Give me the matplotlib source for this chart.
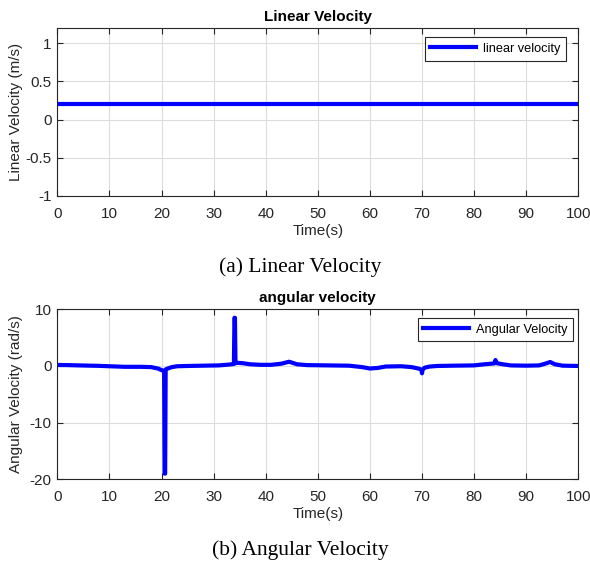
import numpy as np
import matplotlib
matplotlib.use("Agg")
import matplotlib.pyplot as plt

plt.rcParams['font.family'] = ['Liberation Sans', 'DejaVu Sans']
plt.rcParams['axes.unicode_minus'] = False

# linear velocity: constant command over the whole run
lin_time = [0, 100]
lin_vel = [0.2, 0.2]

# angular velocity samples (rad/s)
ang_time = [0, 2, 5, 8, 10, 13, 16, 18, 19.3, 20.2, 20.5, 20.6, 20.7, 20.8, 21.2, 22, 23, 25,
            28, 31, 33, 33.9, 34.0, 34.1, 34.2, 34.6, 35.5, 37, 39, 41, 43, 44.5, 46, 48,
            52, 56, 58.5, 60, 61.5, 63, 66, 68, 69.5, 69.9, 70.0, 70.1, 70.5, 71.5, 73,
            76, 80, 82, 83.9, 84.1, 84.3, 84.6, 85.5, 87, 90, 92.5, 93.8, 94.6, 95.5,
            97, 100]
ang_vel = [0.18, 0.15, 0.08, 0.02, -0.05, -0.15, -0.15, -0.2, -0.45, -0.8, -0.9, -19.0,
           -19.0, -0.6, -0.45, -0.2, -0.05, 0.0, 0.05, 0.1, 0.25, 0.35, 8.5, 8.5, 0.5,
           0.55, 0.5, 0.3, 0.2, 0.2, 0.4, 0.75, 0.3, 0.15, 0.1, 0.05, -0.2, -0.45, -0.35,
           -0.1, -0.05, -0.2, -0.5, -0.7, -1.3, -0.7, -0.3, -0.1, 0.0, 0.05, 0.1, 0.3,
           0.45, 1.05, 0.5, 0.45, 0.3, 0.1, 0.05, 0.1, 0.45, 0.7, 0.3, 0.05, 0.0]

fig = plt.figure(figsize=(5.9, 5.64), dpi=100)
W, H = 590.0, 564.0


def style_axes(ax):
    ax.grid(True, color='#dcdcdc', linewidth=0.8)
    ax.set_axisbelow(True)
    ax.tick_params(direction='in', top=True, right=True, length=4,
                   labelsize=11, colors='#262626')
    ax.tick_params(axis='x', pad=8)
    ax.tick_params(axis='y', pad=4)
    ax.yaxis.set_label_coords(-0.065, 0.5)
    for s in ax.spines.values():
        s.set_color('#262626')
        s.set_linewidth(0.8)


def add_legend(ax, anchor):
    leg = ax.legend(loc='upper right', bbox_to_anchor=anchor, borderaxespad=0,
                    fontsize=9.2, fancybox=False, framealpha=1,
                    edgecolor='#262626', handlelength=3.6,
                    handletextpad=0.5, borderpad=0.45)
    leg.get_frame().set_linewidth(0.8)


ax1 = fig.add_axes([57.3 / W, 1 - 196 / H, 521 / W, 168 / H])
ax1.plot(lin_time, lin_vel, color='#0000ff', linewidth=3, label='linear velocity')
ax1.set_xlim(0, 100)
ax1.set_ylim(-1, 1.2)
ax1.set_xticks(np.arange(0, 101, 10))
ax1.set_yticks([-1, -0.5, 0, 0.5, 1])
ax1.set_yticklabels(['-1', '-0.5', '0', '0.5', '1'])
ax1.set_title('Linear Velocity', fontsize=11, fontweight='bold', pad=5)
ax1.set_xlabel('Time(s)', fontsize=11, color='#262626', labelpad=2)
ax1.set_ylabel('Linear Velocity (m/s)', fontsize=11, color='#262626')
style_axes(ax1)
add_legend(ax1, (0.976, 0.946))

ax2 = fig.add_axes([57.3 / W, 1 - 479.3 / H, 521 / W, 170 / H])
ax2.plot(ang_time, ang_vel, color='#0000ff', linewidth=3, label='Angular Velocity',
         solid_joinstyle='round')
ax2.set_xlim(0, 100)
ax2.set_ylim(-20, 10)
ax2.set_xticks(np.arange(0, 101, 10))
ax2.set_yticks([-20, -10, 0, 10])
ax2.set_title('angular velocity', fontsize=11, fontweight='bold', pad=5)
ax2.set_xlabel('Time(s)', fontsize=11, color='#262626', labelpad=2)
ax2.set_ylabel('Angular Velocity (rad/s)', fontsize=11, color='#262626')
style_axes(ax2)
add_legend(ax2, (0.99, 0.949))

# figure captions
fig.text(300 / W, 1 - 267 / H, '(a) Linear Velocity', ha='center', va='center',
         fontsize=15.5, family='Liberation Serif')
fig.text(300 / W, 1 - 550 / H, '(b) Angular Velocity', ha='center', va='center',
         fontsize=15.5, family='Liberation Serif')

fig.savefig('out.png', dpi=100, facecolor='white')
